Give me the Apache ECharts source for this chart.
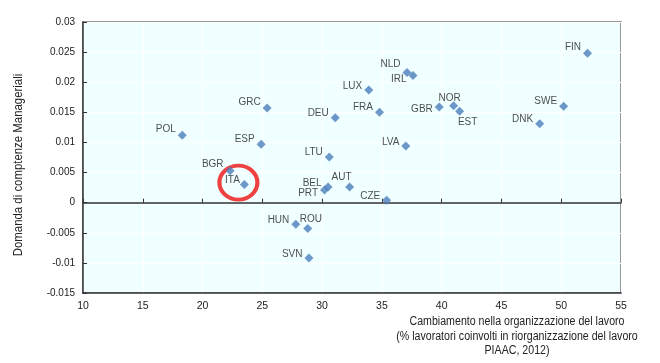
<!DOCTYPE html>
<html><head><meta charset="utf-8">
<script src="https://cdn.jsdelivr.net/npm/echarts@6/dist/echarts.min.js"></script>
<style>html,body{margin:0;padding:0;background:#fff}#c{width:660px;height:363px}</style>
</head><body><div id="c"></div>
<script>
var FONT = '"Liberation Sans",Arial,sans-serif';
var countries = ['FIN','NLD','IRL','LUX','FRA','GBR','NOR','EST','SWE','DNK','LVA','DEU','LTU','GRC','POL','ESP','BGR','ITA','HUN','ROU','SVN','BEL','PRT','AUT','CZE'];
var xValues = [52.2,37.1,37.6,33.9,34.8,39.8,41.0,41.5,50.2,48.2,37.0,31.1,30.6,25.4,18.3,24.9,22.3,23.5,27.8,28.8,28.9,30.5,30.2,32.3,35.4];
var yValues = [0.0248,0.0216,0.0211,0.0187,0.0150,0.0159,0.0161,0.0152,0.0160,0.0131,0.0094,0.0141,0.0076,0.0157,0.0112,0.0097,0.0053,0.0030,-0.0036,-0.0043,-0.0092,0.0026,0.0021,0.0026,0.0004];
var xTicks = [10,15,20,25,30,35,40,45,50,55];
var yTicks = [-0.015,-0.01,-0.005,0,0.005,0.01,0.015,0.02,0.025,0.03];
var highlighted = 'ITA';

// label placement per country: [position, dx, dy]
var labelPos = {
  FIN:['left',0,-6], NLD:['left',0,-8], IRL:['left',0,4], LUX:['left',0,-4], FRA:['left',0,-5],
  GBR:['left',0,2], NOR:['top',-4,4], EST:['bottom',8,0], SWE:['left',0,-5], DNK:['left',0,-5],
  LVA:['left',0,-4], DEU:['left',0,-5], LTU:['left',0,-5], GRC:['left',0,-6], POL:['left',0,-6],
  ESP:['left',0,-5], BGR:['left',0,-6], ITA:['left',2,-4], HUN:['left',0,-4], ROU:['top',3,2],
  SVN:['left',0,-4], BEL:['left',0,-4], PRT:['left',0,3], AUT:['top',-8,2], CZE:['left',0,-4]
};

var pts = countries.map(function(c,i){
  var lp = labelPos[c];
  return {name:c, value:[xValues[i], yValues[i]],
    label:{show:true, position:lp[0], distance:2, offset:[lp[1],lp[2]], formatter:c}};
});
var hiIdx = countries.indexOf(highlighted);

function fmtY(v){ return String(Math.round(v*1000)/1000); }

var chart = echarts.init(document.getElementById('c'));
chart.setOption({
  animation:false,
  grid:{left:83, right:39, top:22, bottom:70, show:true, backgroundColor:'#f0ffff', borderColor:'#777', borderWidth:1.5},
  xAxis:[{
    type:'value', min:xTicks[0], max:xTicks[xTicks.length-1], interval:5,
    axisLine:{show:true, onZero:false, lineStyle:{color:'#333', width:1.5}},
    axisTick:{show:false},
    axisLabel:{color:'#222', fontSize:10.5, fontFamily:FONT, margin:8},
    splitLine:{show:true, lineStyle:{color:'#ffffff', width:1}}
  },{
    type:'value', min:xTicks[0], max:xTicks[xTicks.length-1], interval:5, position:'bottom',
    axisLine:{show:true, onZero:true, lineStyle:{color:'#333', width:1.5}},
    axisTick:{show:true, inside:true, length:4, lineStyle:{color:'#333'}},
    axisLabel:{show:false}, splitLine:{show:false}
  }],
  yAxis:{
    type:'value', min:yTicks[0], max:yTicks[yTicks.length-1], interval:0.005,
    axisLine:{show:true, onZero:false, lineStyle:{color:'#333', width:1.5}},
    axisTick:{show:true, inside:true, length:4, lineStyle:{color:'#333'}},
    axisLabel:{color:'#222', fontSize:10, fontFamily:FONT, margin:8, formatter:fmtY},
    splitLine:{show:true, lineStyle:{color:'#ffffff', width:1}}
  },
  series:[{
    type:'scatter', xAxisIndex:0, symbol:'diamond', symbolSize:9, z:3,
    itemStyle:{color:'#4a7ebb'},
    label:{color:'#222', fontSize:10, fontFamily:FONT},
    data:pts
  },{
    type:'scatter', xAxisIndex:0, symbol:'circle', symbolSize:[38,34], symbolOffset:[-6,-2],
    itemStyle:{color:'rgba(0,0,0,0)', borderColor:'#ee1111', borderWidth:4},
    silent:true, z:1,
    data:[[xValues[hiIdx], yValues[hiIdx]]]
  }],
  graphic:[{
    type:'text', x:19, y:165, rotation:Math.PI/2, scaleX:0.95,
    style:{text:'Domanda di comptenze Manageriali', font:'12px '+FONT, fill:'#222', textAlign:'center', textVerticalAlign:'middle'}
  },{
    type:'text', x:517, y:314, scaleX:0.85,
    style:{text:'Cambiamento nella organizzazione del lavoro\n(% lavoratori coinvolti in riorganizzazione del lavoro\nPIAAC, 2012)',
      font:'12.5px '+FONT, fill:'#222', textAlign:'center', lineHeight:14.7}
  }]
});
</script></body></html>
